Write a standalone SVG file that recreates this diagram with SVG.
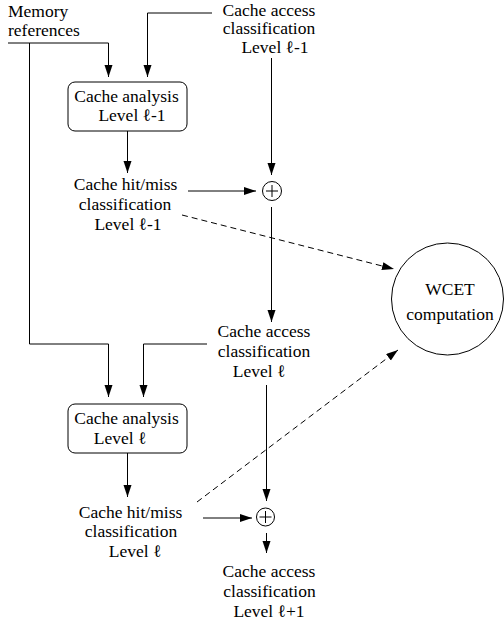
<svg xmlns="http://www.w3.org/2000/svg" width="504" height="625" viewBox="0 0 504 625" font-family="'Liberation Serif', 'Times New Roman', 'DejaVu Serif', serif">
<style>
text{font-family:'Liberation Serif','Times New Roman','DejaVu Serif',serif;font-size:17.5px;fill:#000;text-anchor:middle}
.l{text-anchor:start}
.c{fill:none;stroke:#000;stroke-width:1}
.d{stroke-dasharray:6,4}
.box{fill:#fff;stroke:#000;stroke-width:1}
</style>
<defs>
<marker id="ah" markerUnits="userSpaceOnUse" markerWidth="13" markerHeight="9" refX="12" refY="4" orient="auto">
<path d="M0,0 L12,4 L0,8 z" fill="#000"/>
</marker>
</defs>
<g id="connectors">
<path class="c" d="M8,43 H108.5 V77" marker-end="url(#ah)"/>
<path class="c" d="M29.5,43 V344 H108.5 V397" marker-end="url(#ah)"/>
<path class="c" d="M212,13 H147.5 V77" marker-end="url(#ah)"/>
<path class="c" d="M127.5,131 V173" marker-end="url(#ah)"/>
<path class="c" d="M271.5,58 V175" marker-end="url(#ah)"/>
<path class="c" d="M188,191 H256" marker-end="url(#ah)"/>
<path class="c" d="M271.5,207 V322" marker-end="url(#ah)"/>
<path class="c d" d="M182,215 L394,269" marker-end="url(#ah)"/>
<path class="c" d="M207,344 H143.5 V397" marker-end="url(#ah)"/>
<path class="c" d="M127.5,453 V497" marker-end="url(#ah)"/>
<path class="c" d="M266.5,385 V501" marker-end="url(#ah)"/>
<path class="c" d="M203,518 H252" marker-end="url(#ah)"/>
<path class="c" d="M266.5,533 V553" marker-end="url(#ah)"/>
<path class="c d" d="M197,502 L398,350" marker-end="url(#ah)"/>
</g>
<g id="memory-references">
<text class="l" x="8" y="17">Memory</text>
<text class="l" x="8" y="36">references</text>
</g>
<g id="cache-access-l-1">
<text x="269" y="15.5">Cache access</text>
<text x="269" y="34">classification</text>
<text x="275" y="53">Level ℓ-1</text>
</g>
<g id="cache-analysis-l-1">
<rect class="box" x="68" y="82" width="119" height="49" rx="7"/>
<text x="126.5" y="102">Cache analysis</text>
<text x="132" y="121">Level ℓ-1</text>
</g>
<g id="hitmiss-l-1">
<text x="125.5" y="190">Cache hit/miss</text>
<text x="125" y="210">classification</text>
<text x="128" y="230">Level ℓ-1</text>
</g>
<g id="oplus-1">
<circle class="c" cx="272" cy="191" r="9.5"/>
<path class="c" d="M266,191 H278 M272,185 V197"/>
</g>
<g id="wcet">
<circle class="c" cx="447.5" cy="299" r="56"/>
<text x="450" y="295">WCET</text>
<text x="450" y="320">computation</text>
</g>
<g id="cache-access-l">
<text x="264" y="337">Cache access</text>
<text x="264" y="357">classification</text>
<text x="259" y="377">Level ℓ</text>
</g>
<g id="cache-analysis-l">
<rect class="box" x="68" y="404" width="119" height="49" rx="7"/>
<text x="126.5" y="424">Cache analysis</text>
<text x="120" y="444">Level ℓ</text>
</g>
<g id="hitmiss-l">
<text x="130.5" y="518">Cache hit/miss</text>
<text x="131" y="537">classification</text>
<text x="135" y="557">Level ℓ</text>
</g>
<g id="oplus-2">
<circle class="c" cx="265.5" cy="517" r="9"/>
<path class="c" d="M259.5,517 H271.5 M265.5,511 V523"/>
</g>
<g id="cache-access-l1">
<text x="269" y="577">Cache access</text>
<text x="269.5" y="597">classification</text>
<text x="269" y="617">Level ℓ+1</text>
</g>
</svg>
